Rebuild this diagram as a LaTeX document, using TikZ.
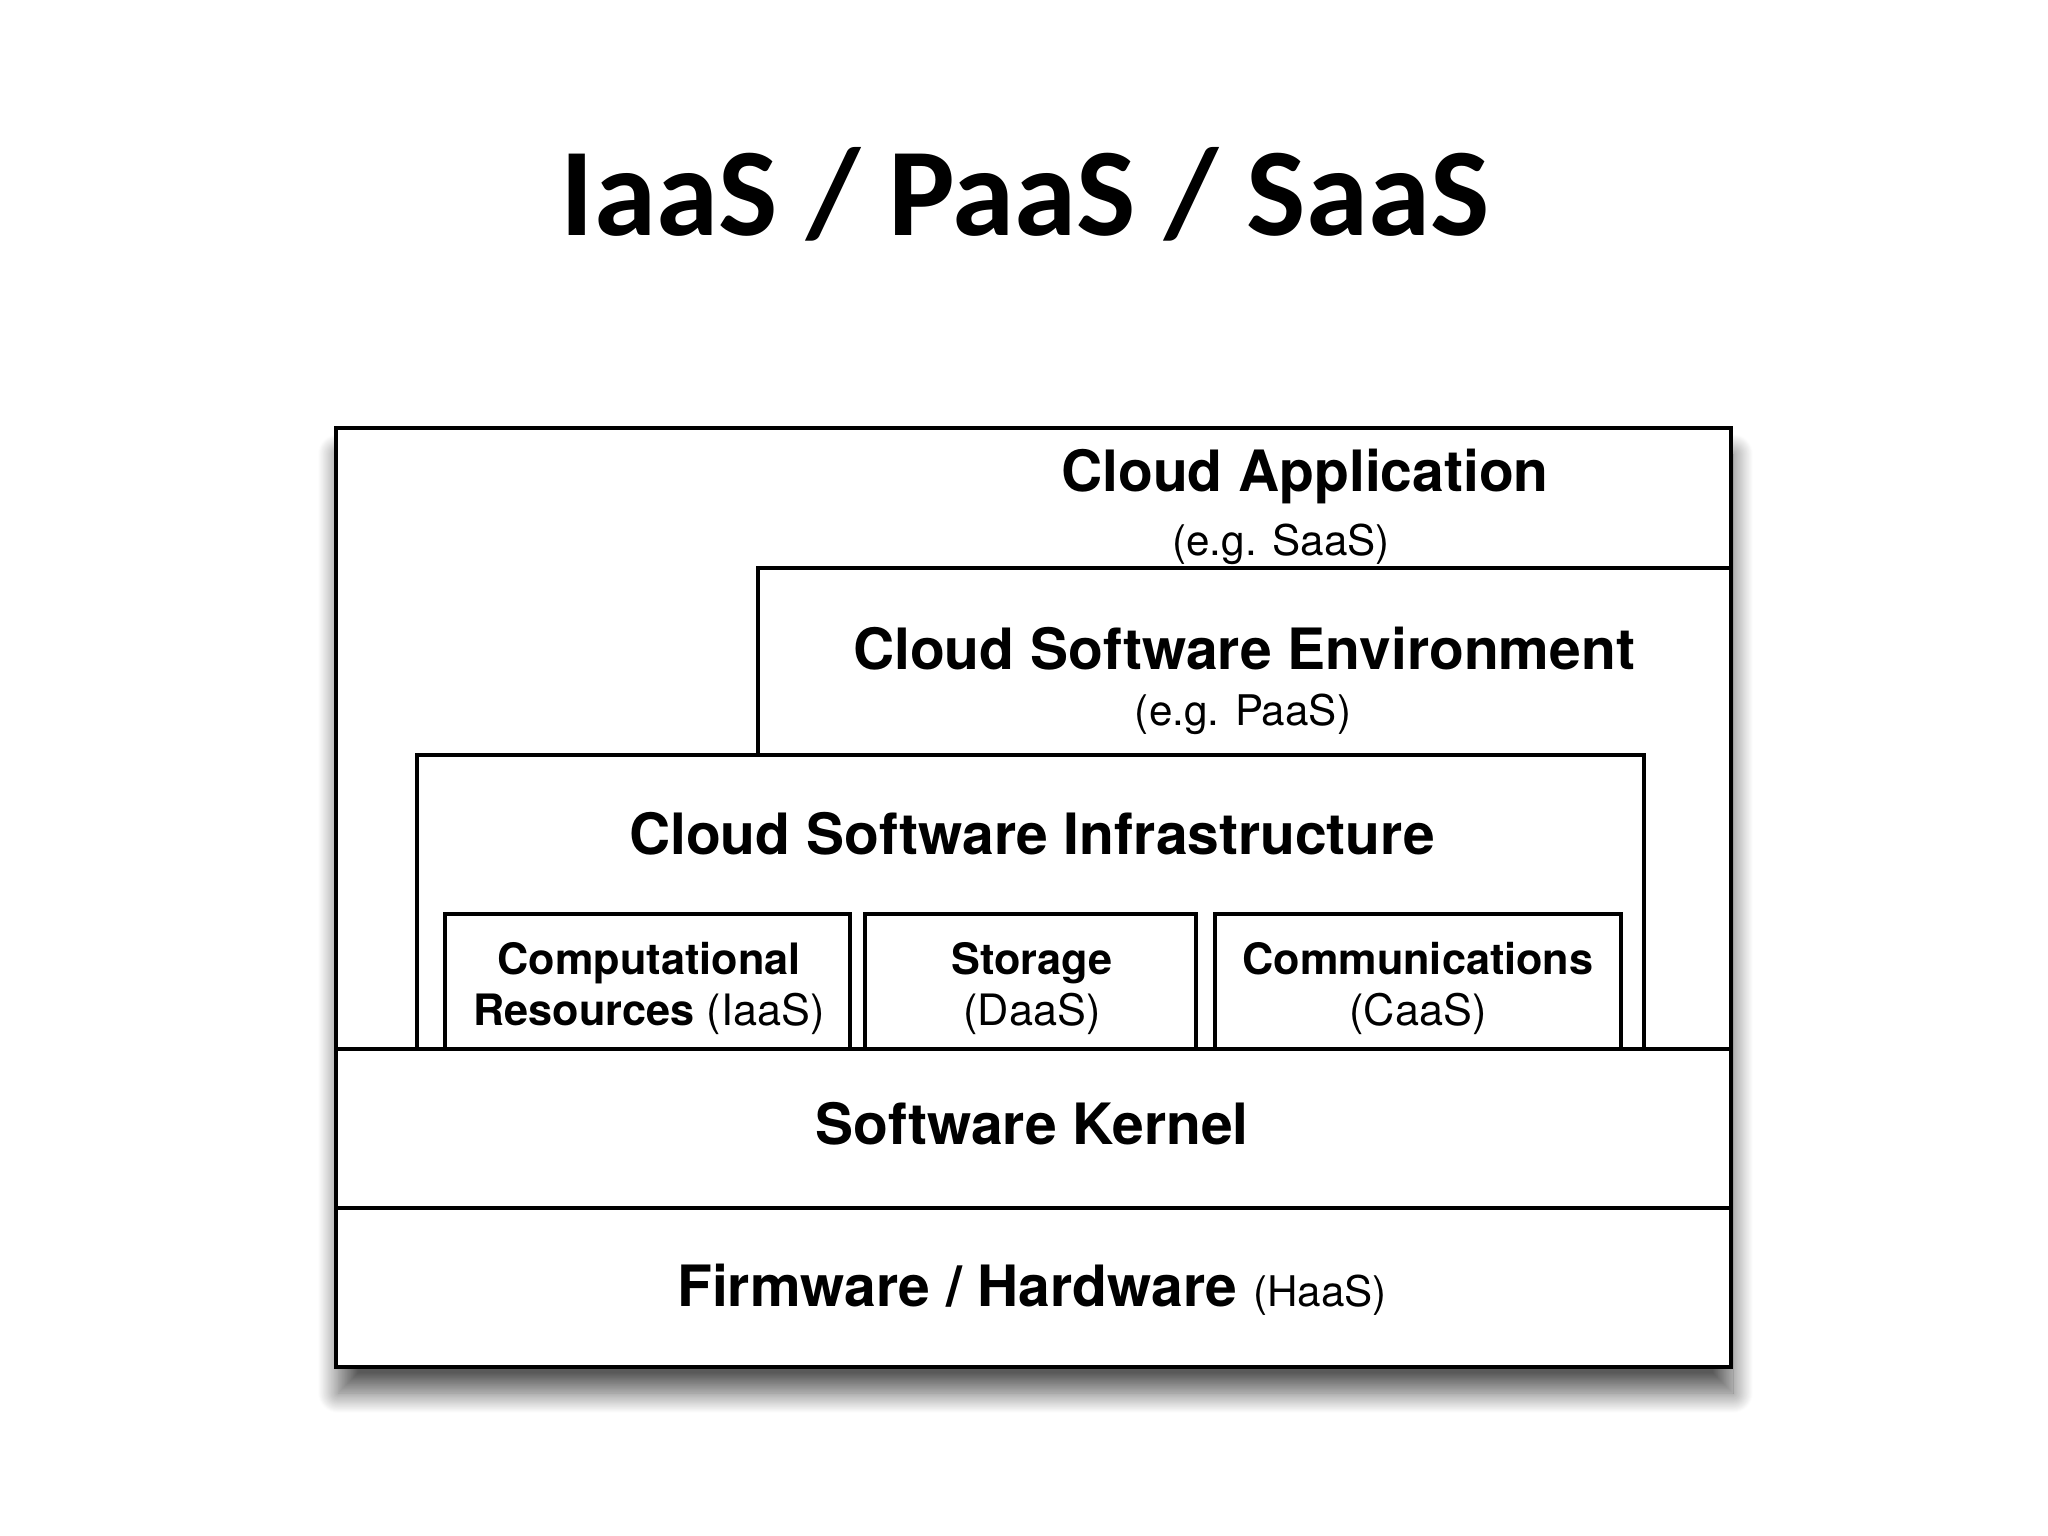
\documentclass[tikz,border=0pt]{standalone}
\usepackage{fontspec}
\setmainfont{TeX Gyre Heros}
\newfontfamily\titlefont{Carlito}
\usetikzlibrary{shadows.blur}

\begin{document}
\begin{tikzpicture}[
  x=0.01cm, y=-0.01cm,
  box/.style={draw, line width=1.1pt},
  title/.style={font=\titlefont\fontsize{35.7}{40}\selectfont\bfseries, anchor=base},
  head/.style={font=\fontsize{16.2}{18}\selectfont\bfseries, anchor=base},
  note/.style={font=\fontsize{12}{14}\selectfont, anchor=base},
  cell/.style={font=\fontsize{12.3}{14}\selectfont, anchor=base}
]
\useasboundingbox (0,0) rectangle (2048,1536);

\node[title] (title) at (1025,235) {IaaS / PaaS / SaaS};

% outer stack
\draw[box, fill=white, blur shadow={shadow xshift=0.02cm, shadow yshift=-0.26cm,
  shadow blur radius=0.2cm, shadow blur steps=24, shadow opacity=65}]
  (336,428) rectangle (1731,1367);

% environment layer
\draw[box] (758,755) -- (758,568) -- (1731,568);
% infrastructure layer
\draw[box] (417,1049) rectangle (1644,755);
\draw[box] (445,1049) rectangle (850,914);
\draw[box] (865,1049) rectangle (1196,914);
\draw[box] (1215,1049) rectangle (1621,914);
% kernel and hardware
\draw[box] (336,1049) -- (1731,1049);
\draw[box] (336,1208) -- (1731,1208);

\node[head] (app) at (1305,491) {Cloud Application};
\node[note] (saas) at (1281,555) {(e.g. SaaS)};
\node[head] (env) at (1244,669) {Cloud Software Environment};
\node[note] (paas) at (1243,725) {(e.g. PaaS)};
\node[head] (infra) at (1032,854) {Cloud Software Infrastructure};

\node[cell] (comp) at (649,974) {\bfseries Computational};
\node[cell] (compb) at (649,1025) {\textbf{Resources} (IaaS)};
\node[cell] (stor) at (1032,974) {\bfseries Storage};
\node[cell] (storb) at (1032,1025) {(DaaS)};
\node[cell] (comm) at (1418,974) {\bfseries Communications};
\node[cell] (commb) at (1418,1025) {(CaaS)};

\node[head] (kernel) at (1032,1144) {Software Kernel};
\node[head] (hw) at (1032,1306) {Firmware / Hardware {\mdseries\fontsize{12}{14}\selectfont (HaaS)}};
\end{tikzpicture}
\end{document}
